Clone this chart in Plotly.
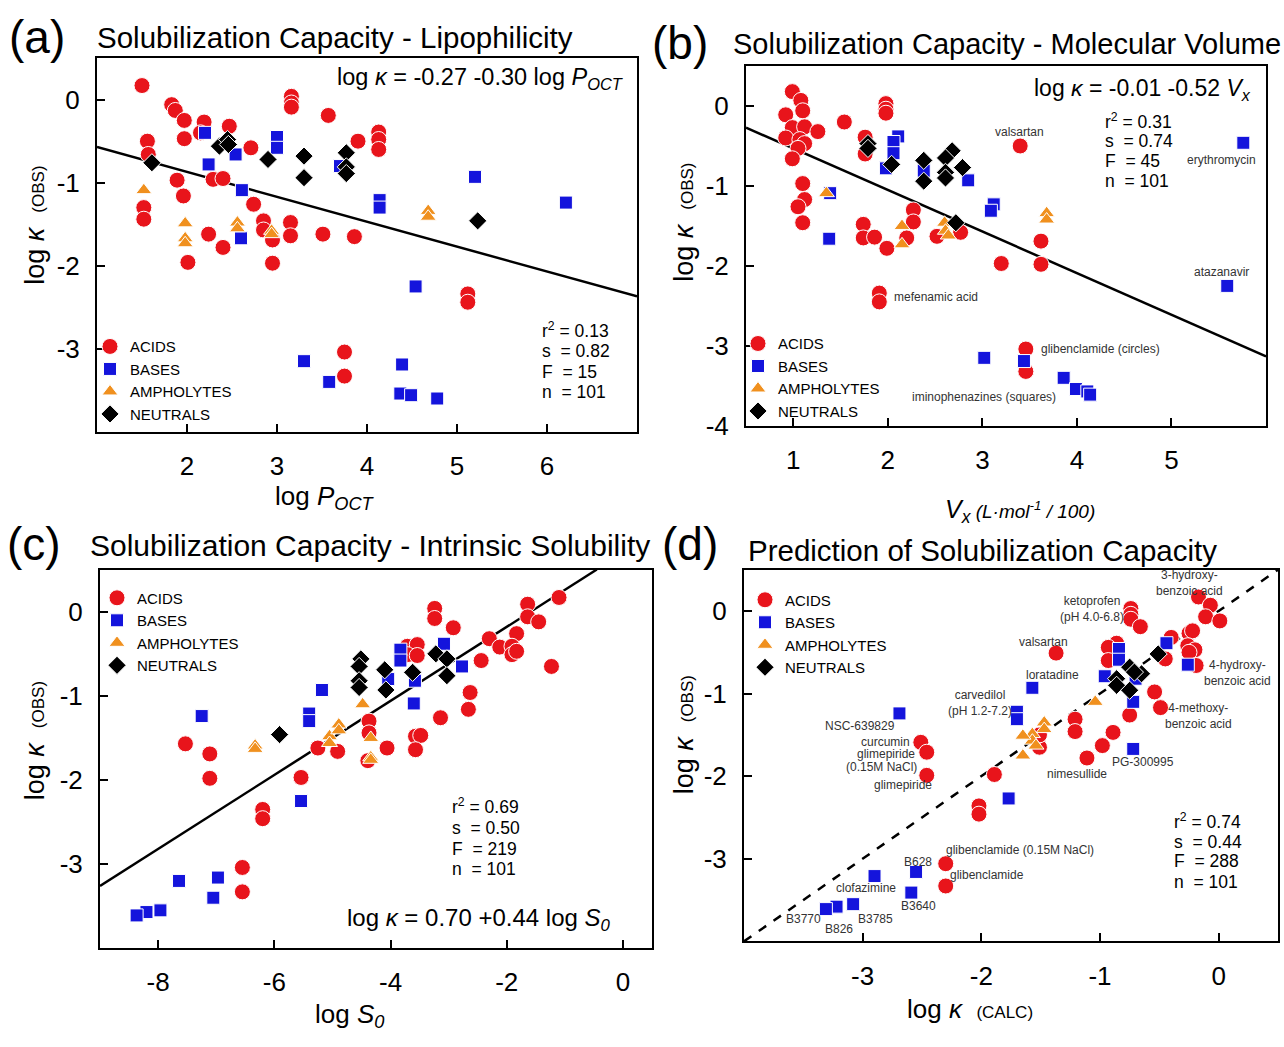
import plotly.graph_objects as go

W, H = 1284, 1047
FONT = "Liberation Sans, Arial, sans-serif"

# ---------------- data ----------------
# (a) log P_OCT vs log kappa(OBS)
a_acid_x = [1.50,1.83,1.87,1.97,2.19,2.47,2.15,1.97,1.56,1.57,3.16,3.16,3.16,3.57,4.13,4.13,4.13,3.90,2.71,2.29,
            2.40,1.89,1.96,1.52,1.52,2.74,2.85,2.85,2.95,3.15,3.15,2.24,2.40,2.01,2.95,3.51,3.86,5.12,5.12,3.75,3.75]
a_acid_y = [0.17,-0.06,-0.13,-0.25,-0.27,-0.32,-0.40,-0.47,-0.50,-0.66,0.04,-0.04,-0.09,-0.19,-0.39,-0.48,-0.60,-0.50,-0.58,-0.96,
            -0.95,-0.97,-1.16,-1.30,-1.44,-1.26,-1.46,-1.57,-1.69,-1.48,-1.64,-1.62,-1.78,-1.96,-1.97,-1.62,-1.65,-2.34,-2.44,-3.04,-3.33]
a_base_x = [2.20,2.54,2.24,3.00,3.00,3.70,2.61,2.60,4.14,4.14,5.20,6.21,4.54,3.30,3.58,4.39,4.37,4.49,4.78]
a_base_y = [-0.40,-0.66,-0.78,-0.45,-0.58,-0.80,-1.09,-1.67,-1.21,-1.30,-0.93,-1.24,-2.25,-3.15,-3.40,-3.19,-3.54,-3.56,-3.60]
a_amph_x = [1.52,1.98,1.98,1.98,2.56,2.56,2.94,2.94,4.68,4.68]
a_amph_y = [-1.09,-1.49,-1.67,-1.73,-1.48,-1.55,-1.58,-1.62,-1.34,-1.41]
a_neut_x = [1.61,2.36,2.45,2.46,2.90,3.30,3.30,3.77,3.77,3.77,5.23]
a_neut_y = [-0.76,-0.56,-0.48,-0.54,-0.72,-0.68,-0.94,-0.64,-0.81,-0.89,-1.46]
a_fit = [-0.27, -0.30]

# (b) V_x vs log kappa(OBS)
b_acid_x = [0.99,1.08,0.92,1.10,0.99,1.12,1.26,0.92,1.07,1.12,1.05,0.99,1.10,1.12,1.05,1.10,1.54,1.98,1.98,1.98,
            1.76,1.76,1.74,1.74,1.86,1.99,2.27,2.27,2.20,2.52,2.77,3.40,3.20,3.62,3.62,1.91,1.91,3.46,3.46]
b_acid_y = [0.18,0.07,-0.11,-0.06,-0.27,-0.26,-0.32,-0.40,-0.42,-0.47,-0.53,-0.66,-0.97,-1.17,-1.26,-1.46,-0.20,0.03,-0.04,-0.09,
            -0.39,-0.60,-1.48,-1.65,-1.64,-1.78,-1.30,-1.45,-1.65,-1.63,-1.58,-0.50,-1.97,-1.69,-1.98,-2.34,-2.45,-3.04,-3.32]
b_base_x = [2.11,2.06,2.06,1.98,2.38,2.85,1.39,1.38,3.12,3.09,3.02,3.44,3.86,3.99,4.11,4.14,5.76,5.59]
b_base_y = [-0.38,-0.45,-0.59,-0.78,-0.81,-0.93,-1.09,-1.66,-1.23,-1.31,-3.15,-3.19,-3.40,-3.54,-3.57,-3.61,-0.46,-2.25]
b_amph_x = [1.35,2.15,2.15,2.60,2.61,2.64,3.68,3.68]
b_amph_y = [-1.09,-1.50,-1.73,-1.46,-1.56,-1.62,-1.34,-1.42]
b_neut_x = [1.79,1.79,2.04,2.38,2.38,2.68,2.61,2.61,2.61,2.79,2.72]
b_neut_y = [-0.47,-0.53,-0.73,-0.68,-0.94,-0.56,-0.65,-0.83,-0.90,-0.77,-1.46]
b_fit = [-0.01, -0.52]

# (c) log S0 vs log kappa(OBS)
c_acid_x = [-1.10,-1.64,-1.64,-1.45,-3.24,-3.24,-2.92,-2.30,-1.83,-2.12,-1.91,-1.91,-1.83,-2.44,-1.23,-3.71,-3.54,-3.71,-3.54,-2.63,
            -2.66,-3.14,-4.37,-4.37,-4.39,-3.57,-3.48,-3.57,-4.06,-5.25,-4.91,-5.54,-6.20,-6.20,-7.53,-7.11,-7.11,-6.55,-6.55]
c_acid_y = [0.17,0.09,-0.06,-0.12,0.04,-0.08,-0.19,-0.32,-0.26,-0.42,-0.41,-0.51,-0.47,-0.58,-0.65,-0.41,-0.39,-0.51,-0.52,-0.96,
            -1.16,-1.26,-1.30,-1.44,-1.77,-1.48,-1.47,-1.64,-1.62,-1.62,-1.66,-1.97,-2.35,-2.46,-1.57,-1.69,-1.98,-3.04,-3.33]
c_base_x = [-3.08,-3.83,-3.83,-4.04,-3.58,-3.60,-2.77,-5.18,-5.40,-5.40,-7.25,-5.54,-7.64,-6.97,-7.05,-7.96,-8.20,-8.37]
c_base_y = [-0.38,-0.45,-0.58,-0.80,-0.82,-1.09,-0.65,-0.93,-1.21,-1.30,-1.24,-2.25,-3.20,-3.16,-3.40,-3.55,-3.57,-3.61]
c_amph_x = [-6.33,-6.33,-5.05,-5.05,-4.89,-4.89,-4.48,-4.34,-4.34,-4.34]
c_amph_y = [-1.59,-1.63,-1.48,-1.56,-1.34,-1.41,-1.10,-1.50,-1.73,-1.76]
c_neut_x = [-5.91,-4.51,-4.54,-4.54,-4.54,-4.10,-4.08,-3.62,-3.22,-3.03,-3.03]
c_neut_y = [-1.46,-0.56,-0.65,-0.82,-0.90,-0.69,-0.93,-0.72,-0.50,-0.56,-0.76]
c_fit = [0.70, 0.44]

# (d) log kappa(CALC) vs log kappa(OBS)
d_acid_x = [-0.17,-0.07,-0.11,0.01,-0.74,-0.74,-0.74,-0.66,-0.40,-0.25,-0.22,-0.26,-0.20,-0.25,-0.19,-0.45,-0.86,-0.93,-0.93,-1.37,
            -0.54,-0.49,-0.75,-1.21,-1.21,-0.89,-0.98,-1.11,-1.51,-1.51,-1.89,-2.02,-2.02,-2.51,-2.46,-2.46,-2.30,-2.30]
d_acid_y = [0.17,0.07,-0.07,-0.12,0.03,-0.04,-0.10,-0.19,-0.32,-0.27,-0.24,-0.42,-0.47,-0.50,-0.66,-0.58,-0.39,-0.44,-0.60,-0.51,
            -0.98,-1.17,-1.26,-1.31,-1.46,-1.47,-1.63,-1.78,-1.65,-1.50,-1.98,-2.36,-2.46,-1.59,-1.71,-1.99,-3.06,-3.33]
d_base_x = [-0.44,-0.26,-0.84,-0.84,-0.96,-0.70,-0.72,-0.72,-1.57,-1.70,-1.70,-2.69,-1.77,-2.90,-2.55,-2.59,-3.08,-3.22,-3.31]
d_base_y = [-0.39,-0.65,-0.46,-0.59,-0.79,-0.82,-1.10,-1.67,-0.93,-1.22,-1.31,-1.24,-2.27,-3.21,-3.16,-3.41,-3.55,-3.58,-3.61]
d_amph_x = [-1.04,-1.47,-1.47,-1.57,-1.57,-1.65,-1.54,-1.65]
d_amph_y = [-1.10,-1.35,-1.43,-1.49,-1.57,-1.51,-1.63,-1.75]
d_neut_x = [-0.86,-0.86,-0.75,-0.75,-0.65,-0.51,-0.71]
d_neut_y = [-0.82,-0.90,-0.68,-0.96,-0.76,-0.52,-0.74]

class_names = ["ACIDS", "BASES", "AMPHOLYTES", "NEUTRALS"]

# ---------------- styling ----------------
STYLE = {
    "ACIDS": dict(symbol="circle", color="#e8141b", size=16),
    "BASES": dict(symbol="square", color="#1414dc", size=13),
    "AMPHOLYTES": dict(symbol="triangle-up", color="#f0901e", size=14),
    "NEUTRALS": dict(symbol="diamond", color="#000000", size=14),
}

def px(x):
    return x / W

def py(y):
    return 1 - y / H

fig = go.Figure()

panels = [
    dict(key="", data=[(a_acid_x, a_acid_y), (a_base_x, a_base_y), (a_amph_x, a_amph_y), (a_neut_x, a_neut_y)], legend="legend"),
    dict(key="2", data=[(b_acid_x, b_acid_y), (b_base_x, b_base_y), (b_amph_x, b_amph_y), (b_neut_x, b_neut_y)], legend="legend2"),
    dict(key="3", data=[(c_acid_x, c_acid_y), (c_base_x, c_base_y), (c_amph_x, c_amph_y), (c_neut_x, c_neut_y)], legend="legend3"),
    dict(key="4", data=[(d_acid_x, d_acid_y), (d_base_x, d_base_y), (d_amph_x, d_amph_y), (d_neut_x, d_neut_y)], legend="legend4"),
]

# fit lines (drawn first, under markers)
a_rng = [1, 7]
b_rng = [0.5, 6]
c_rng = [-9, -0.45]
fig.add_trace(go.Scatter(x=a_rng, y=[a_fit[0] + a_fit[1] * v for v in a_rng], mode="lines",
                         line=dict(color="black", width=2.5), showlegend=False, xaxis="x", yaxis="y"))
fig.add_trace(go.Scatter(x=b_rng, y=[b_fit[0] + b_fit[1] * v for v in b_rng], mode="lines",
                         line=dict(color="black", width=2.5), showlegend=False, xaxis="x2", yaxis="y2"))
fig.add_trace(go.Scatter(x=c_rng, y=[c_fit[0] + c_fit[1] * v for v in c_rng], mode="lines",
                         line=dict(color="black", width=2.5), showlegend=False, xaxis="x3", yaxis="y3"))
fig.add_trace(go.Scatter(x=[-4, 0.5], y=[-4, 0.5], mode="lines",
                         line=dict(color="black", width=2.5, dash="dash"), showlegend=False, xaxis="x4", yaxis="y4"))

for p in panels:
    for name, (xs, ys) in zip(class_names, p["data"]):
        st = STYLE[name]
        fig.add_trace(go.Scatter(
            x=xs, y=ys, mode="markers", name=name,
            marker=dict(symbol=st["symbol"], color=st["color"], size=st["size"],
                        line=dict(color="white", width=1)),
            xaxis="x" + p["key"], yaxis="y" + p["key"], legend=p["legend"],
        ))

def axis(domain, rng, tickvals, anchor):
    return dict(domain=domain, range=rng, tickvals=tickvals,
                ticktext=[("%g" % v) for v in tickvals],
                ticks="inside", ticklen=8, tickwidth=1.5, tickcolor="black",
                showline=True, linecolor="black", linewidth=2, mirror=True,
                showgrid=False, zeroline=False, anchor=anchor,
                tickfont=dict(family=FONT, size=26, color="black"),
                ticklabelstandoff=10)

layout = dict(
    width=W, height=H, margin=dict(l=0, r=0, t=0, b=0),
    paper_bgcolor="white", plot_bgcolor="white",
    font=dict(family=FONT, color="black"),
    xaxis=axis([px(97), px(637)], [1, 7], [2, 3, 4, 5, 6], "y"),
    yaxis=axis([py(438), py(59)], [-4, 0.5], [0, -1, -2, -3], "x"),
    xaxis2=axis([px(746), px(1266)], [0.5, 6], [1, 2, 3, 4, 5], "y2"),
    yaxis2=axis([py(432), py(67)], [-4, 0.5], [0, -1, -2, -3, -4], "x2"),
    xaxis3=axis([px(100), px(652)], [-9, 0.5], [-8, -6, -4, -2, 0], "y3"),
    yaxis3=axis([py(962), py(578)], [-4, 0.5], [0, -1, -2, -3], "x3"),
    xaxis4=axis([px(744), px(1278)], [-4, 0.5], [-3, -2, -1, 0], "y4"),
    yaxis4=axis([py(955), py(578)], [-4, 0.5], [0, -1, -2, -3], "x4"),
)

def legend_at(xp, yp):
    return dict(x=px(xp), y=py(yp), xanchor="left", yanchor="top", bgcolor="rgba(0,0,0,0)",
                font=dict(family=FONT, size=15, color="black"), tracegroupgap=0, itemwidth=30)

layout["legend"] = legend_at(90, 335)
layout["legend2"] = legend_at(738, 332)
layout["legend3"] = legend_at(97, 590)
layout["legend4"] = legend_at(745, 592)

fig.update_layout(**layout)

ann = []

def ptext(text, x, y, size, xanchor="left", yanchor="middle", angle=0):
    ann.append(dict(text=text, x=px(x), y=py(y), xref="paper", yref="paper", showarrow=False,
                    xanchor=xanchor, yanchor=yanchor, textangle=angle,
                    font=dict(family=FONT, size=size, color="black")))

def dtext(text, x, y, k, size=12, xanchor="center", yanchor="middle", color="#333333", align="center"):
    ann.append(dict(text=text, x=x, y=y, xref="x" + k, yref="y" + k, showarrow=False,
                    xanchor=xanchor, yanchor=yanchor, align=align,
                    font=dict(family=FONT, size=size, color=color)))

# panel letters and titles
ptext("(a)", 7, 38, 46)
ptext("Solubilization Capacity - Lipophilicity", 95, 38, 29.5)
ptext("(b)", 650, 44, 46)
ptext("Solubilization Capacity - Molecular Volume", 731, 45, 29)
ptext("(c)", 5, 552, 46)
ptext("Solubilization Capacity - Intrinsic Solubility", 88, 553, 30)
ptext("(d)", 660, 552, 46)
ptext("Prediction of Solubilization Capacity", 746, 558, 29.5)

# axis titles
ytitle = "log <i>κ</i>  <span style='font-size:17px'>(OBS)</span>"
ptext(ytitle, 35, 229, 27, xanchor="center", angle=-90)
ptext(ytitle, 684, 225, 27, xanchor="center", angle=-90)
ptext(ytitle, 35, 752, 27, xanchor="center", angle=-90)
ptext(ytitle, 684, 745, 27, xanchor="center", angle=-90)
ptext("log <i>P</i><sub><i>OCT</i></sub>", 325, 505, 26, xanchor="center")
ptext("<i>V</i><sub><i>x</i></sub><i><span style='font-size:19px'> (L·mol<sup>-1</sup> / 100)</span></i>", 1020, 518, 25, xanchor="center")
ptext("log <i>S</i><sub><i>0</i></sub>", 350, 1030, 26, xanchor="center")
ptext("log <i>κ</i>  <span style='font-size:17px'>(CALC)</span>", 970, 1024, 26, xanchor="center")

# equations
ptext("log <i>κ</i> = -0.27 -0.30 log <i>P</i><sub><i>OCT</i></sub>", 626, 80, 23.5, xanchor="right")
ptext("log <i>κ</i> = -0.01 -0.52 <i>V</i><sub><i>x</i></sub>", 1253, 91, 23, xanchor="right")
ptext("log <i>κ</i> = 0.70 +0.44 log <i>S</i><sub><i>0</i></sub>", 613, 933, 24, xanchor="right")

# statistics
def stats(vals, x, ys):
    labels = ["r<sup>2</sup> = ", "s \u00a0= ", "F \u00a0= ", "n \u00a0= "]
    for lab, v, y in zip(labels, vals, ys):
        ptext(lab + v, x, y, 17.5)

stats(["0.13", "0.82", "15", "101"], 540, [335, 356, 377, 398])
stats(["0.31", "0.74", "45", "101"], 1103, [123, 143, 163, 184])
stats(["0.69", "0.50", "219", "101"], 450, [818, 840, 861, 882])
stats(["0.74", "0.44", "288", "101"], 1172, [833, 854, 874, 895])

# labels in panel (b)
dtext("valsartan", 3.39, -0.32, "2")
dtext("erythromycin", 5.53, -0.68, "2")
dtext("atazanavir", 5.53, -2.07, "2")
dtext("mefenamic acid", 2.04, -2.39, "2", xanchor="left")
dtext("glibenclamide (circles)", 3.60, -3.04, "2", xanchor="left")
dtext("iminophenazines (squares)", 3.02, -3.64, "2")

# labels in panel (d)
d_labels = [
    ("3-hydroxy-<br>benzoic acid", -0.25, 0.34),
    ("ketoprofen<br>(pH 4.0-6.8)", -1.07, 0.02),
    ("valsartan", -1.48, -0.37),
    ("loratadine", -1.40, -0.78),
    ("carvedilol<br>(pH 1.2-7.2)", -2.01, -1.12),
    ("NSC-639829", -3.02, -1.39),
    ("curcumin", -2.81, -1.59),
    ("glimepiride", -2.80, -1.73),
    ("(0.15M NaCl)", -2.84, -1.89),
    ("glimepiride", -2.66, -2.11),
    ("4-hydroxy-<br>benzoic acid", 0.16, -0.75),
    ("4-methoxy-<br>benzoic acid", -0.17, -1.27),
    ("nimesullide", -1.19, -1.97),
    ("PG-300995", -0.64, -1.83),
    ("glibenclamide (0.15M NaCl)", -1.67, -2.90),
    ("glibenclamide", -1.95, -3.20),
    ("B628", -2.53, -3.04),
    ("clofazimine", -2.97, -3.35),
    ("B3640", -2.53, -3.57),
    ("B3770", -3.50, -3.73),
    ("B826", -3.20, -3.85),
    ("B3785", -2.89, -3.73),
]
for t, x, y in d_labels:
    dtext(t, x, y, "4")

fig.update_layout(annotations=ann)
fig.write_html("out.html")
